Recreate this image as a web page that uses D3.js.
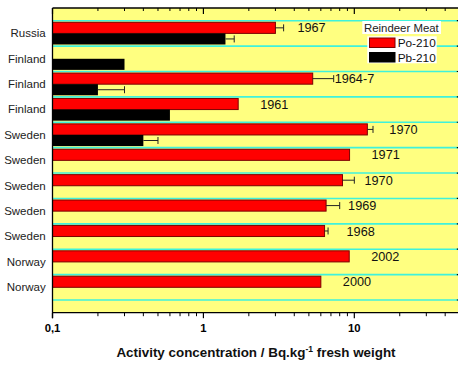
<!DOCTYPE html>
<html>
<head>
<meta charset="utf-8">
<script src="https://cdn.jsdelivr.net/npm/d3@7"></script>
<style>
  html, body { margin: 0; padding: 0; background: #ffffff; }
  svg { display: block; font-family: "Liberation Sans", Arial, sans-serif; }
</style>
</head>
<body>
<svg id="chart" width="458" height="365"></svg>
<script>
// Reindeer meat: Po-210 and Pb-210 activity concentrations by country / sampling year
const categories = ["Russia", "Finland", "Finland", "Finland", "Sweden", "Sweden",
                    "Sweden", "Sweden", "Sweden", "Norway", "Norway"];
const years      = ["1967", "", "1964-7", "1961", "1970", "1971", "1970", "1969", "1968", "2002", "2000"];
const po210      = [3.0, null, 5.3, 1.7, 12.2, 9.3, 8.35, 6.5, 6.35, 9.25, 6.0];
const po210Err   = [0.4, null, 2.0, null, 1.1, null, 1.65, 1.5, 0.35, null, null];
const pb210      = [1.4, 0.3, 0.2, 0.6, 0.4, null, null, null, null, null, null];
const pb210Err   = [0.2, null, 0.1, null, 0.1, null, null, null, null, null, null];
const xTickValues = [0.1, 1, 10];
const xTickLabels = ["0,1", "1", "10"];
const seriesNames = ["Po-210", "Pb-210"];
const legendTitle = "Reindeer Meat";

const svg = d3.select("#chart");
const plot = { left: 52.5, right: 459.8, top: 8, bottom: 312.7 };
const rowPad = 12.7;

const x = d3.scaleLog().domain([0.1, 50]).range([plot.left, plot.right]);
const y = d3.scaleBand()
  .domain(d3.range(categories.length))
  .range([plot.top + rowPad, plot.bottom - rowPad])
  .paddingInner(0).paddingOuter(0);

const colors = { po: "#ff0000", poStroke: "#7a0000", pb: "#000000", grid: "#3ff2dc", bg: "#ffff80" };

// plot background
svg.append("rect")
  .attr("x", plot.left).attr("y", plot.top)
  .attr("width", plot.right - plot.left).attr("height", plot.bottom - plot.top)
  .attr("fill", colors.bg);

// horizontal separators at band boundaries
const boundaries = d3.range(categories.length + 1).map(i =>
  i < categories.length ? y(i) : y(categories.length - 1) + y.bandwidth());
svg.append("g").selectAll("line").data(boundaries).join("line")
  .attr("x1", plot.left).attr("x2", plot.right)
  .attr("y1", d => d).attr("y2", d => d)
  .attr("stroke", colors.grid).attr("stroke-width", 1.6);

const half = y.bandwidth() / 2;
const barH = half - 1.6;
const x0 = x.range()[0];

// Po-210 bars (upper half of each row)
const poIdx = d3.range(categories.length).filter(i => po210[i] != null);
svg.append("g").selectAll("rect").data(poIdx).join("rect")
  .attr("x", x0)
  .attr("y", i => y(i) + half - barH)
  .attr("width", i => x(po210[i]) - x0)
  .attr("height", barH)
  .attr("fill", colors.po)
  .attr("stroke", colors.poStroke).attr("stroke-width", 1);

// Pb-210 bars (lower half of each row)
const pbIdx = d3.range(categories.length).filter(i => pb210[i] != null);
svg.append("g").selectAll("rect").data(pbIdx).join("rect")
  .attr("x", x0)
  .attr("y", i => y(i) + half)
  .attr("width", i => x(pb210[i]) - x0)
  .attr("height", barH)
  .attr("fill", colors.pb);

// error bars (plus side only)
function errorBars(vals, errs, yMid) {
  const idx = d3.range(categories.length).filter(i => vals[i] != null && errs[i] != null);
  const g = svg.append("g").attr("stroke", "#222").attr("stroke-width", 1);
  idx.forEach(i => {
    const xa = x(vals[i]), xb = x(vals[i] + errs[i]), yc = yMid(i);
    g.append("line").attr("x1", xa).attr("x2", xb).attr("y1", yc).attr("y2", yc);
    g.append("line").attr("x1", xb).attr("x2", xb).attr("y1", yc - 3.5).attr("y2", yc + 3.5);
  });
}
errorBars(po210, po210Err, i => y(i) + half - barH / 2);
errorBars(pb210, pb210Err, i => y(i) + half + barH / 2);

// year labels next to the Po-210 bars
svg.append("g").selectAll("text").data(poIdx).join("text")
  .attr("x", i => x(po210[i]) + 22)
  .attr("y", i => y(i) + half - barH / 2 + 4.6)
  .attr("font-size", 12.7)
  .attr("fill", "#111")
  .text(i => years[i]);

// category labels
svg.append("g").selectAll("text").data(d3.range(categories.length)).join("text")
  .attr("x", 45.7)
  .attr("y", i => y(i) + half + 3.9)
  .attr("text-anchor", "end")
  .attr("font-size", 11.5)
  .attr("fill", "#222")
  .text(i => categories[i]);

// axes frame
const minorTicks = [];
[0.1, 1, 10].forEach(d => { for (let k = 2; k <= 9; k++) if (d * k <= 50) minorTicks.push(d * k); });

const bottomAxis = svg.append("g").attr("transform", `translate(0,${plot.bottom})`);
bottomAxis.append("line").attr("x1", plot.left).attr("x2", plot.right).attr("stroke", "#000").attr("stroke-width", 1.3);
bottomAxis.selectAll(".maj").data(xTickValues).join("line")
  .attr("x1", d => x(d)).attr("x2", d => x(d)).attr("y1", 0).attr("y2", 5.5)
  .attr("stroke", "#000").attr("stroke-width", 1.2);
bottomAxis.selectAll(".min").data(minorTicks).join("line")
  .attr("x1", d => x(d)).attr("x2", d => x(d)).attr("y1", 0).attr("y2", 3.5)
  .attr("stroke", "#000").attr("stroke-width", 1);
bottomAxis.selectAll("text").data(xTickValues).join("text")
  .attr("x", d => x(d)).attr("y", 19)
  .attr("text-anchor", "middle")
  .attr("font-size", 11.3).attr("font-weight", "bold")
  .text((d, i) => xTickLabels[i]);

const topAxis = svg.append("g").attr("transform", `translate(0,${plot.top})`);
topAxis.append("line").attr("x1", plot.left).attr("x2", plot.right).attr("stroke", "#000").attr("stroke-width", 1.3);
topAxis.selectAll(".maj").data(xTickValues).join("line")
  .attr("x1", d => x(d)).attr("x2", d => x(d)).attr("y1", 0).attr("y2", 6)
  .attr("stroke", "#000").attr("stroke-width", 1.2);
topAxis.selectAll(".min").data(minorTicks).join("line")
  .attr("x1", d => x(d)).attr("x2", d => x(d)).attr("y1", 0).attr("y2", 3)
  .attr("stroke", "#000").attr("stroke-width", 1);

svg.append("line").attr("x1", plot.left).attr("x2", plot.left)
  .attr("y1", plot.top).attr("y2", plot.bottom + 5.5).attr("stroke", "#000").attr("stroke-width", 1.3);
svg.append("line").attr("x1", plot.right).attr("x2", plot.right)
  .attr("y1", plot.top).attr("y2", plot.bottom).attr("stroke", "#000").attr("stroke-width", 1.3);
svg.append("g").selectAll("line").data(boundaries).join("line")
  .attr("x1", plot.right - 3).attr("x2", plot.right)
  .attr("y1", d => d).attr("y2", d => d)
  .attr("stroke", "#000").attr("stroke-width", 1.2);

// axis title
const title = svg.append("text")
  .attr("x", 256).attr("y", 357)
  .attr("text-anchor", "middle")
  .attr("font-size", 13.4).attr("font-weight", "bold")
  .attr("fill", "#111");
title.append("tspan").text("Activity concentration / Bq.kg");
title.append("tspan").attr("dy", -5.5).attr("font-size", 8.5).text("-1");
title.append("tspan").attr("dy", 5.5).text(" fresh weight");

// legend
const lg = svg.append("g");
lg.append("rect").attr("x", 362.3).attr("y", 21).attr("width", 78.7).attr("height", 13).attr("fill", "#fff");
lg.append("text").attr("x", 364).attr("y", 31.6).attr("font-size", 11.4).attr("fill", "#222").text(legendTitle);
lg.append("rect").attr("x", 367.3).attr("y", 36.3).attr("width", 69.4).attr("height", 27).attr("fill", "#fff");
const legendColors = [colors.po, colors.pb];
seriesNames.forEach((name, i) => {
  lg.append("rect")
    .attr("x", 369.5).attr("y", 38 + i * 14.5)
    .attr("width", 25.5).attr("height", 9.5)
    .attr("fill", legendColors[i])
    .attr("stroke", i === 0 ? colors.poStroke : "#000").attr("stroke-width", 1);
  lg.append("text")
    .attr("x", 397.7).attr("y", 47 + i * 14.5)
    .attr("font-size", 11.8).attr("fill", "#111")
    .text(name);
});
</script>
</body>
</html>
